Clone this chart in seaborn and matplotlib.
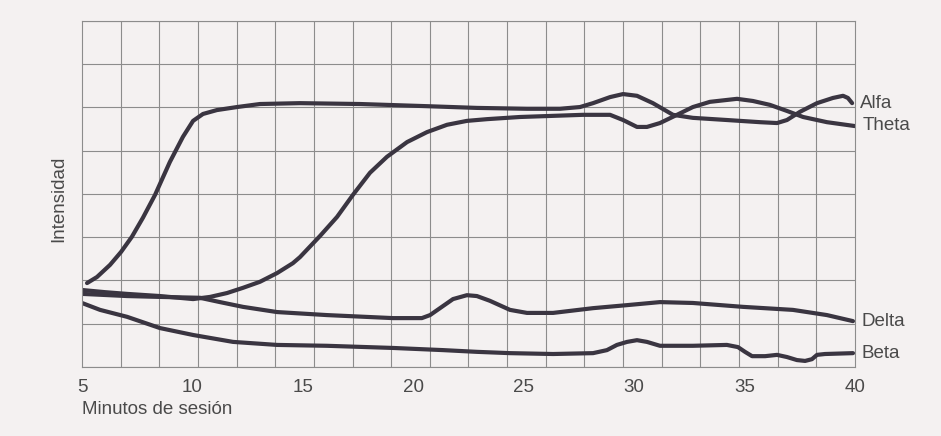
import numpy as np
import pandas as pd
import matplotlib
matplotlib.use("Agg")
import matplotlib.pyplot as plt
import seaborn as sns

# ---- data (minutes, relative intensity in grid units) ----
alfa_x = [5.23, 5.68, 6.27, 6.77, 7.26, 7.76, 8.31, 8.98, 9.57, 10.03, 10.48, 11.11, 12.02,
          13.06, 14.87, 17.59, 20.62, 22.88, 25.15, 26.64, 27.55, 28.14, 28.91, 29.50, 30.13,
          30.85, 31.76, 32.66, 34.20, 35.70, 36.47, 36.92, 37.51, 38.28, 39.00, 39.46, 39.68,
          39.87]
alfa_y = [1.94, 2.08, 2.36, 2.66, 3.01, 3.45, 3.98, 4.74, 5.32, 5.69, 5.85, 5.94, 6.01,
          6.08, 6.10, 6.08, 6.03, 5.99, 5.97, 5.97, 6.01, 6.10, 6.24, 6.31, 6.27,
          6.10, 5.83, 5.76, 5.71, 5.66, 5.64, 5.71, 5.90, 6.10, 6.22, 6.27, 6.22,
          6.10]

theta_x = [5.00, 6.04, 7.04, 8.53, 10.03, 10.80, 11.57, 12.29, 13.06, 13.83, 14.55, 14.87, 15.78,
           16.55, 17.27, 18.04, 18.81, 19.72, 20.62, 21.53, 22.43, 23.34, 24.83, 27.68, 28.91,
           29.50, 30.13, 30.58, 31.17, 31.94, 32.66, 33.43, 34.66, 35.38, 36.15, 36.92, 37.65,
           38.73, 40.00]
theta_y = [1.78, 1.73, 1.69, 1.64, 1.57, 1.62, 1.71, 1.83, 1.97, 2.17, 2.40, 2.54, 3.03,
           3.47, 3.98, 4.49, 4.86, 5.20, 5.43, 5.60, 5.69, 5.73, 5.78, 5.83, 5.83,
           5.71, 5.55, 5.55, 5.64, 5.83, 6.01, 6.13, 6.20, 6.15, 6.06, 5.92, 5.78,
           5.66, 5.57]

delta_x = [5.00, 7.04, 8.53, 10.34, 11.25, 12.29, 13.83, 16.09, 19.08, 20.39, 20.76, 21.21, 21.80,
           22.43, 22.88, 23.47, 24.38, 25.15, 26.33, 28.14, 29.68, 31.17, 32.66, 34.93, 37.19,
           38.73, 39.91]
delta_y = [1.69, 1.64, 1.62, 1.60, 1.50, 1.39, 1.27, 1.20, 1.13, 1.13, 1.20, 1.36, 1.57,
           1.66, 1.64, 1.53, 1.32, 1.25, 1.25, 1.36, 1.43, 1.50, 1.48, 1.39, 1.32,
           1.20, 1.06]

beta_x = [5.00, 5.82, 7.04, 8.53, 10.03, 11.84, 13.83, 16.09, 19.08, 21.35, 22.88, 24.38, 26.33,
          28.14, 28.77, 29.22, 29.68, 30.13, 30.58, 31.17, 32.66, 34.20, 34.70, 35.02, 35.34,
          35.93, 36.47, 36.92, 37.37, 37.74, 38.05, 38.28, 38.64, 39.91]
beta_y = [1.48, 1.32, 1.16, 0.90, 0.74, 0.58, 0.51, 0.49, 0.44, 0.39, 0.35, 0.32, 0.30,
          0.32, 0.39, 0.51, 0.58, 0.62, 0.58, 0.49, 0.49, 0.51, 0.46, 0.35, 0.25,
          0.25, 0.28, 0.23, 0.16, 0.14, 0.18, 0.28, 0.30, 0.32]

series_names = ["Alfa", "Theta", "Delta", "Beta"]
x_ticks = [5, 10, 15, 20, 25, 30, 35, 40]
x_label = "Minutos de sesión"
y_label = "Intensidad"

# ---- build long-form table ----
frames = []
for name, xs, ys in zip(series_names, [alfa_x, theta_x, delta_x, beta_x],
                        [alfa_y, theta_y, delta_y, beta_y]):
    frames.append(pd.DataFrame({"min": xs, "val": ys, "serie": name}))
df = pd.concat(frames, ignore_index=True)

# ---- style ----
sns.set_theme(style="white")
plt.rcParams["font.family"] = ["Liberation Sans", "DejaVu Sans"]
bg = "#f4f1f1"
ink = "#3a3541"
txt = "#4a4a4a"
gridc = "#8c8c8c"
fs = 13.5

fig = plt.figure(figsize=(9.41, 4.36), dpi=100, facecolor=bg)
ax = fig.add_axes([0.0871, 0.1583, 0.8215, 0.7936])
ax.set_facecolor(bg)

sns.lineplot(data=df, x="min", y="val", hue="serie", units="serie", estimator=None,
             sort=False, palette=[ink] * 4, linewidth=3.0, legend=False, ax=ax,
             solid_capstyle="round", solid_joinstyle="round")

ax.set_xlim(5, 40)
ax.set_ylim(0, 8)

# grid: 20 columns, 8 rows
ax.set_xticks(np.linspace(5, 40, 21), minor=True)
ax.set_yticks(np.arange(0, 9, 1), minor=True)
ax.grid(True, which="minor", color=gridc, linewidth=0.8)
ax.set_axisbelow(True)
ax.set_xticks(x_ticks)
ax.set_xticklabels([str(t) for t in x_ticks])
ax.set_yticks([])
ax.tick_params(axis="x", which="both", length=0, pad=9, labelsize=fs, labelcolor=txt)
ax.tick_params(axis="y", which="both", length=0)
for s in ax.spines.values():
    s.set_color(gridc)
    s.set_linewidth(0.8)

ax.set_xlabel(x_label, loc="left", fontsize=fs, color=txt, labelpad=3)
ax.set_ylabel(y_label, fontsize=fs, color=txt)
ax.yaxis.set_label_coords(-0.019, 0.486)

# series labels at line ends
for name, xs, ys in zip(series_names, [alfa_x, theta_x, delta_x, beta_x],
                        [alfa_y, theta_y, delta_y, beta_y]):
    ax.annotate(name, xy=(xs[-1], ys[-1]), xytext=(8, 1 if name == "Theta" else 0),
                textcoords="offset pixels", va="center", ha="left",
                fontsize=fs, color=txt, annotation_clip=False)

fig.savefig("out.png", dpi=100, facecolor=bg)
